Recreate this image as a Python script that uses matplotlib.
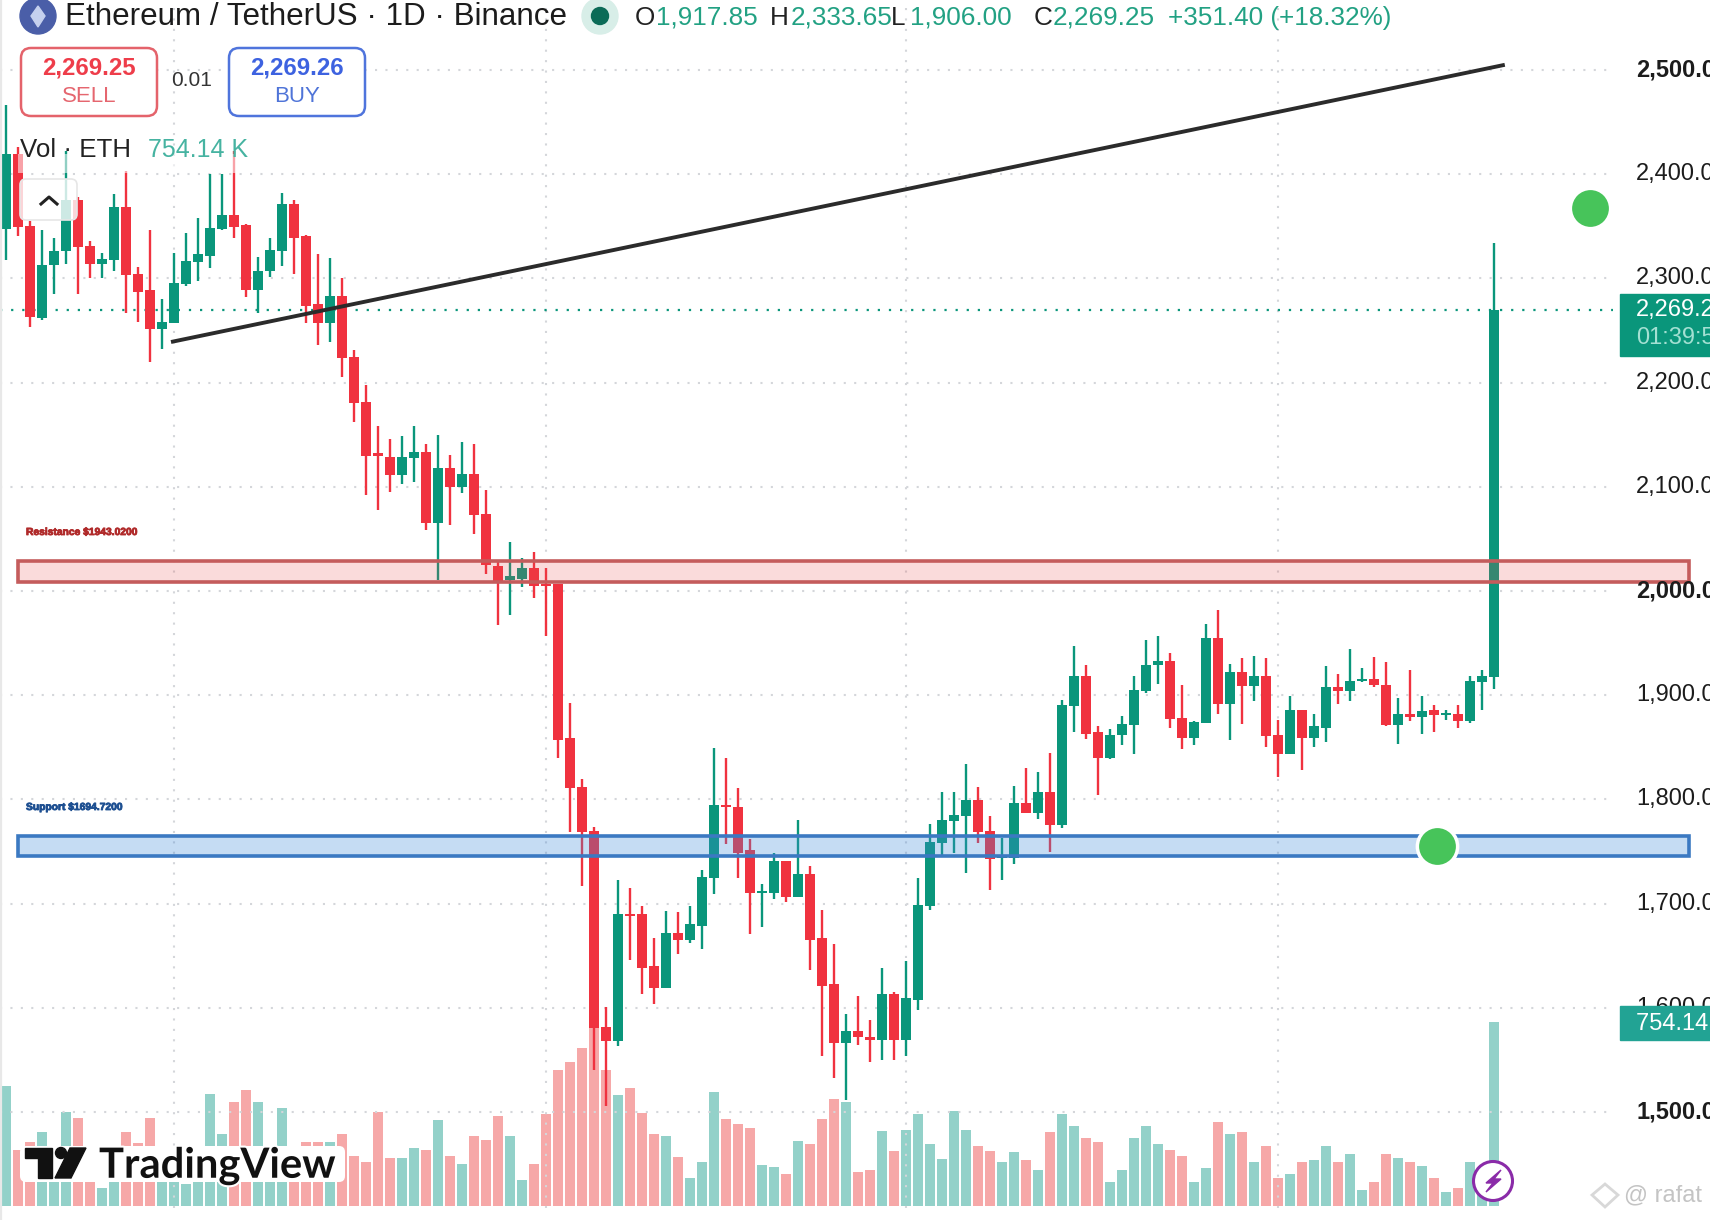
import matplotlib
matplotlib.use("Agg")
import matplotlib.pyplot as plt
from matplotlib.patches import Circle, FancyBboxPatch, Polygon, Rectangle
import matplotlib.patheffects as pe
from matplotlib.transforms import blended_transform_factory

plt.rcParams["font.family"] = ["Liberation Sans", "DejaVu Sans"]

opens = [2347, 2419, 2350, 2262, 2313, 2326, 2375, 2331, 2314, 2318,
         2369, 2304, 2289, 2251, 2257, 2295, 2316, 2322, 2347, 2361,
         2351, 2289, 2307, 2326, 2371, 2341, 2275, 2257, 2283, 2225,
         2181, 2131, 2129, 2111, 2128, 2133, 2065, 2118, 2100, 2112,
         2074, 2024, 2011, 2012, 2022, 2007, 2007, 1859, 1812, 1770,
         1582, 1568, 1690, 1690, 1640, 1619, 1672, 1665, 1679, 1725,
         1795, 1793, 1751, 1710, 1710, 1741, 1706, 1728, 1667, 1623,
         1566, 1578, 1572, 1569, 1613, 1569, 1608, 1698, 1758, 1779,
         1784, 1799, 1770, 1744, 1744, 1797, 1787, 1807, 1775, 1890,
         1918, 1865, 1840, 1862, 1871, 1904, 1929, 1933, 1878, 1859,
         1873, 1955, 1892, 1922, 1909, 1918, 1862, 1844, 1886, 1859,
         1869, 1908, 1904, 1914, 1916, 1910, 1871, 1882, 1879, 1886,
         1881, 1882, 1875, 1913, 1917.85]
closes = [2419, 2349, 2263, 2313, 2326, 2375, 2330, 2314, 2319, 2369,
          2303, 2287, 2251, 2258, 2296, 2317, 2323, 2348, 2361, 2349,
          2289, 2307, 2327, 2371, 2339, 2274, 2257, 2283, 2224, 2180,
          2130, 2130, 2111, 2129, 2133, 2065, 2118, 2100, 2112, 2073,
          2025, 2009, 2014, 2022, 2005, 2005, 1857, 1811, 1769, 1581,
          1568, 1690, 1688, 1638, 1619, 1672, 1665, 1680, 1726, 1795,
          1793, 1749, 1710, 1711, 1741, 1706, 1728, 1665, 1621, 1566,
          1578, 1572, 1569, 1613, 1569, 1609, 1699, 1759, 1780, 1785,
          1799, 1769, 1743, 1746, 1797, 1787, 1807, 1775, 1891, 1918,
          1863, 1840, 1862, 1872, 1905, 1929, 1933, 1877, 1859, 1874,
          1955, 1892, 1922, 1909, 1918, 1861, 1844, 1886, 1859, 1870,
          1908, 1904, 1914, 1916, 1910, 1871, 1882, 1879, 1885, 1881,
          1882, 1875, 1914, 1918, 2269.25]
highs = [2466, 2426, 2355, 2346, 2339, 2422, 2378, 2336, 2324, 2381,
         2403, 2311, 2346, 2280, 2324, 2344, 2358, 2400, 2400, 2422,
         2352, 2321, 2339, 2382, 2375, 2342, 2323, 2320, 2300, 2231,
         2198, 2158, 2146, 2149, 2158, 2141, 2150, 2131, 2143, 2141,
         2097, 2029, 2047, 2032, 2037, 2022, 2007, 1893, 1820, 1774,
         1601, 1723, 1715, 1698, 1667, 1693, 1692, 1698, 1732, 1849,
         1840, 1811, 1762, 1719, 1749, 1741, 1780, 1736, 1694, 1661,
         1594, 1611, 1588, 1638, 1615, 1645, 1725, 1776, 1807, 1807,
         1834, 1812, 1784, 1763, 1813, 1830, 1826, 1845, 1895, 1947,
         1929, 1870, 1868, 1880, 1918, 1953, 1957, 1941, 1910, 1875,
         1968, 1982, 1930, 1936, 1938, 1936, 1876, 1899, 1886, 1882,
         1928, 1920, 1944, 1926, 1937, 1932, 1897, 1924, 1899, 1891,
         1886, 1891, 1918, 1924, 2333.65]
lows = [2318, 2341, 2253, 2260, 2285, 2314, 2285, 2300, 2300, 2307,
        2267, 2258, 2220, 2232, 2257, 2293, 2298, 2310, 2346, 2339,
        2282, 2267, 2301, 2312, 2304, 2257, 2236, 2239, 2205, 2162,
        2092, 2078, 2095, 2103, 2105, 2059, 2011, 2063, 2094, 2055,
        2016, 1967, 1977, 2004, 1993, 1957, 1840, 1769, 1717, 1540,
        1506, 1563, 1646, 1613, 1604, 1619, 1652, 1662, 1656, 1709,
        1757, 1725, 1671, 1678, 1704, 1702, 1706, 1636, 1554, 1533,
        1512, 1564, 1548, 1550, 1550, 1554, 1598, 1694, 1746, 1749,
        1729, 1758, 1713, 1723, 1738, 1787, 1781, 1750, 1773, 1865,
        1858, 1804, 1839, 1852, 1844, 1902, 1911, 1869, 1848, 1852,
        1873, 1882, 1857, 1872, 1894, 1850, 1822, 1844, 1828, 1850,
        1855, 1892, 1894, 1913, 1908, 1870, 1853, 1875, 1863, 1865,
        1876, 1869, 1873, 1886, 1906]
volumes = [492, 229, 260, 303, 230, 384, 360, 188, 73, 160,
           303, 256, 360, 160, 133, 89, 105, 459, 295, 425,
           476, 425, 188, 402, 245, 262, 262, 262, 295, 204,
           180, 384, 196, 196, 237, 229, 352, 204, 171, 287,
           270, 369, 286, 105, 170, 378, 557, 590, 647, 730,
           556, 457, 483, 382, 294, 285, 202, 112, 178, 466,
           358, 334, 318, 169, 160, 129, 268, 252, 358, 439,
           426, 138, 145, 308, 226, 310, 376, 252, 193, 391,
           310, 244, 226, 180, 219, 187, 147, 302, 377, 327,
           279, 262, 97, 148, 279, 327, 253, 230, 205, 97,
           154, 344, 295, 304, 181, 245, 114, 131, 180, 188,
           245, 180, 213, 65, 97, 213, 196, 180, 163, 114,
           57, 72, 180, 50, 754.14]

price_ticks = [2500, 2400, 2300, 2200, 2100, 2000, 1900, 1800, 1700, 1600, 1500]
bold_ticks = [2500, 2000, 1500]
month_lines = [14, 45, 75, 106]
last_price = 2269.25
resistance_zone = [2009, 2029]
support_zone = [1746, 1765]
trend_x = [13.75, 124.9]
trend_y = [2239, 2505]
dots_x = [132, 119.25]
dots_y = [2367.6, 1755.3]

RED = "#f0323f"
GREEN = "#0a967b"
VOL_RED = "#f6a8a8"
VOL_GREEN = "#93d1c9"

fig = plt.figure(figsize=(17.1, 12.2), dpi=100, facecolor="white")
vol_ax = fig.add_axes([0, 0, 1, 1], zorder=1)
ax = fig.add_axes([0, 0, 1, 1], zorder=2)
ui = fig.add_axes([0, 0, 1, 1], zorder=3)
for a in (vol_ax, ax, ui):
    a.axis("off")
    a.patch.set_alpha(0)

x_range = (-0.5, 142)
vol_ax.set_xlim(*x_range)
vol_ax.set_ylim(-58.8, 4958)
ax.set_xlim(*x_range)
ax.set_ylim(1396.4, 2567.2)
ui.set_xlim(0, 1710)
ui.set_ylim(1220, 0)

x = list(range(len(opens)))
up = [c >= o for o, c in zip(opens, closes)]

# volume
vol_ax.bar(x, volumes, width=0.82, color=[VOL_GREEN if u else VOL_RED for u in up])

# grid
grid_style = dict(color="#d4d6da", lw=1.5, linestyles=(0, (1, 4)), zorder=1)
ax.hlines(price_ticks, -0.5, 133.9, **grid_style)
ax.vlines(month_lines, 1408, 2567, **grid_style)
ax.hlines(last_price, -0.5, 133.9, color=GREEN, lw=1.6, linestyles=(0, (1, 4)), zorder=2)

# candles
colors = [GREEN if u else RED for u in up]
ax.vlines(x, lows, highs, color=colors, lw=1.7, zorder=3)
ax.bar(x, [max(abs(c - o), 2) for o, c in zip(opens, closes)],
       bottom=[min(o, c) for o, c in zip(opens, closes)],
       width=0.82, color=colors, zorder=4)

# zones
ax.add_patch(Rectangle((1.0, resistance_zone[0]), 139.25, resistance_zone[1] - resistance_zone[0],
                       facecolor=(0.91, 0.3, 0.3, 0.2), edgecolor="#c45c5c", lw=2.6, zorder=5))
ax.add_patch(Rectangle((1.0, support_zone[0]), 139.25, support_zone[1] - support_zone[0],
                       facecolor=(0.25, 0.55, 0.85, 0.3), edgecolor="#3b79c2", lw=2.6, zorder=5))

# trend line and dots
ax.plot(trend_x, trend_y, color="#2b2b2b", lw=2.8, solid_capstyle="butt", zorder=6)
ax.plot(dots_x, dots_y, "o", ms=29, color="#47c45a", mec="white", mew=2.5, zorder=7)

# price scale
scale_tf = blended_transform_factory(ui.transData, ax.transData)
for p in price_ticks:
    ax.text(1636, p, f"{p:,.1f}", transform=scale_tf, fontsize=17, color="#1c1c1c", va="center",
            fontweight="bold" if p in bold_ticks else "normal", zorder=8)

ui.add_patch(Rectangle((1620, 294), 90, 62, color="#0a967b"))
ui.text(1636, 310, "2,269.25", fontsize=17, color="white", va="center")
ui.text(1636, 338, "01:39:53", fontsize=17, color="#a3e0d2", va="center")
ui.add_patch(Rectangle((1620, 1006), 90, 34, color="#22a394"))
ui.text(1636, 1024, "754.14 K", fontsize=17, color="white", va="center")

# header
ui.add_patch(Circle((38, 16), 18, color="#4a5ea8"))
ui.add_patch(Polygon([(38, 6), (45, 16), (38, 27), (31, 16)], color="#c5d0ee"))
ui.text(65, 17, "Ethereum / TetherUS · 1D · Binance", fontsize=22.6, color="#1c1c1c", va="center")
ui.add_patch(Circle((600, 16), 18, color="#d8eee8"))
ui.add_patch(Circle((600, 16), 8.5, color="#0b6b57"))

VAL = "#22a183"
for lx, label, vx, value in [(635, "O", 656, "1,917.85"), (770, "H", 791, "2,333.65"),
                             (891, "L", 910, "1,906.00"), (1034, "C", 1053, "2,269.25")]:
    ui.text(lx, 18, label, fontsize=18.8, color="#222222", va="center")
    ui.text(vx, 18, value, fontsize=18.8, color=VAL, va="center")
ui.text(1168, 18, "+351.40 (+18.32%)", fontsize=18.8, color=VAL, va="center")

# buy / sell
ui.add_patch(FancyBboxPatch((21, 48), 136, 68, boxstyle="round,pad=0,rounding_size=10",
                            fc="white", ec="#e4636b", lw=1.8))
ui.text(89, 68, "2,269.25", fontsize=17.3, fontweight="bold", color="#ee3d4a", ha="center", va="center")
ui.text(89, 96, "SELL", fontsize=16, color="#e5666f", ha="center", va="center")
ui.text(192, 81, "0.01", fontsize=15, color="#333333", ha="center", va="center")
ui.add_patch(FancyBboxPatch((229, 48), 136, 68, boxstyle="round,pad=0,rounding_size=10",
                            fc="white", ec="#4f74dc", lw=1.8))
ui.text(297, 68, "2,269.26", fontsize=17.3, fontweight="bold", color="#3d62e0", ha="center", va="center")
ui.text(297, 96, "BUY", fontsize=16, color="#4f74d8", ha="center", va="center")

# volume legend with its collapse button
ui.add_patch(Rectangle((18, 154), 232, 19, fc="white", alpha=0.55, lw=0))
ui.text(20, 150, "Vol · ETH", fontsize=18.6, color="#222222", va="center")
ui.text(148, 150, "754.14 K", fontsize=18, color="#46b3a1", va="center")
ui.add_patch(FancyBboxPatch((20, 179), 57, 41, boxstyle="round,pad=0,rounding_size=6",
                            fc=(1, 1, 1, 0.8), ec="#e6e6e6", lw=1.2))
ui.plot([41, 49, 57], [204, 197, 204], color="#222222", lw=2.2)

# zone labels
ui.text(26, 532, "Resistance $1943.0200", fontsize=7.4, fontweight="bold", color="#b02a2a",
        va="center", path_effects=[pe.withStroke(linewidth=0.6, foreground="#b02a2a")])
ui.text(26, 807, "Support $1694.7200", fontsize=7.4, fontweight="bold", color="#1d4f91", va="center",
        path_effects=[pe.withStroke(linewidth=0.6, foreground="#1d4f91")])

# TradingView logo
ui.add_patch(FancyBboxPatch((20, 1146), 325, 36, boxstyle="round,pad=0,rounding_size=6", fc="white", ec="none"))
ui.add_patch(Polygon([(25, 1148), (52, 1148), (52, 1178), (38, 1178), (38, 1158), (25, 1158)], color="#111111"))
ui.add_patch(Circle((61, 1153), 5.5, color="#111111"))
ui.add_patch(Polygon([(70, 1148), (86, 1148), (71, 1178), (55, 1178)], color="#111111"))
ui.text(99, 1166, "TradingView", family="Lato", fontsize=30, fontweight="bold", color="#111111", va="center",
        path_effects=[pe.withStroke(linewidth=3, foreground="white")])

# bolt badge
ui.add_patch(Circle((1493, 1181), 19.5, fc="white", ec="#8a2ba8", lw=2.2))
ui.add_patch(Polygon([(1501, 1170), (1486, 1183), (1493, 1183), (1486, 1192), (1501, 1179), (1494, 1179)],
                     color="#8a2ba8"))

# watermark
ui.add_patch(Polygon([(1605, 1184), (1618, 1195), (1605, 1207), (1592, 1195)], fc="none", ec="#d8d8d8", lw=2))
ui.text(1624, 1195, "@ rafat", fontsize=17, color="#c4c4c4", va="center")

# left border of the chart
ui.plot([1, 1], [0, 1220], color="#e8e8e8", lw=1.6)

fig.savefig("out.png", dpi=100)
